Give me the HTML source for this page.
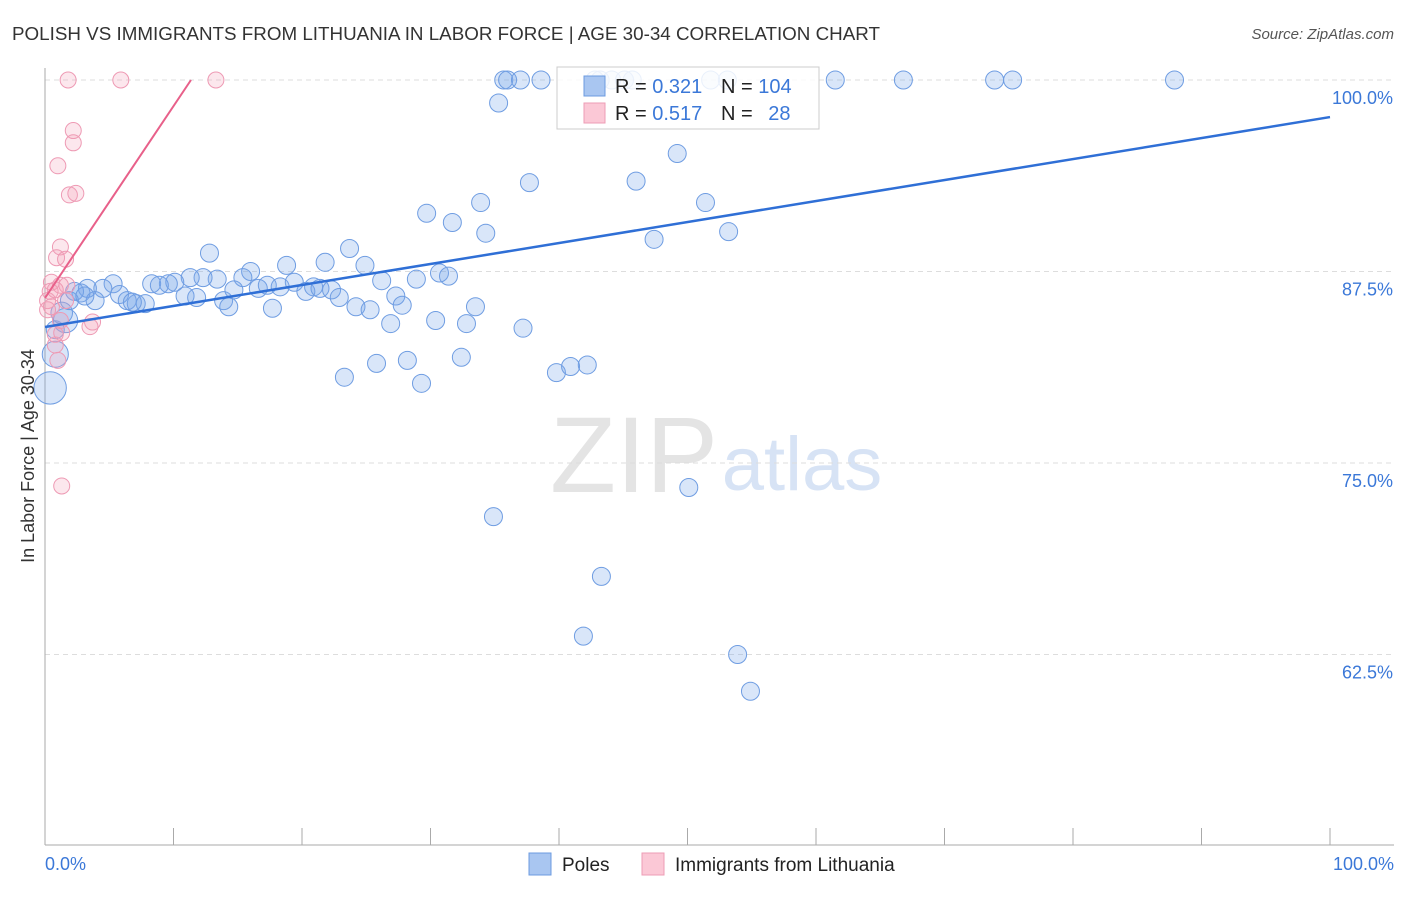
<!DOCTYPE html>
<html><head><meta charset="utf-8"><style>
body{margin:0;background:#fff;font-family:"Liberation Sans",sans-serif}
svg text{font-family:"Liberation Sans",sans-serif}
</style></head><body>
<svg id="chart" width="1406" height="892" xmlns="http://www.w3.org/2000/svg">
<text x="12" y="40" font-size="18" fill="#333" textLength="868" lengthAdjust="spacingAndGlyphs">POLISH VS IMMIGRANTS FROM LITHUANIA IN LABOR FORCE | AGE 30-34 CORRELATION CHART</text>
<text x="1394" y="39" font-size="15" fill="#555" text-anchor="end" font-style="italic">Source: ZipAtlas.com</text>
<text x="634" y="492" font-size="108" fill="#e4e4e4" font-family="Liberation Serif" text-anchor="middle">ZIP</text>
<text x="802" y="490" font-size="76" fill="#d7e3f5" text-anchor="middle">atlas</text>
<g id="grid"></g><g id="axes"></g><g id="marks"></g>
<text transform="translate(34,456) rotate(-90)" font-size="18" fill="#333" text-anchor="middle">In Labor Force | Age 30-34</text>
<text x="45" y="870" font-size="18" fill="#3b78d8">0.0%</text>
<text x="1394" y="870" font-size="18" fill="#3b78d8" text-anchor="end">100.0%</text>
<g>
<rect x="557" y="67" width="262" height="62" fill="#fff" fill-opacity="0.85" stroke="#ccc"/>
<rect x="584" y="76" width="21" height="20" fill="#a9c6f1" stroke="#6c9be0"/>
<rect x="584" y="103" width="21" height="20" fill="#fbc8d6" stroke="#ee9db5"/>
<text x="615" y="93" font-size="20" fill="#222">R = <tspan fill="#3b78d8">0.321</tspan></text>
<text x="721" y="93" font-size="20" fill="#222">N = <tspan fill="#3b78d8">104</tspan></text>
<text x="615" y="120" font-size="20" fill="#222">R = <tspan fill="#3b78d8">0.517</tspan></text>
<text x="721" y="120" font-size="20" fill="#222">N = <tspan fill="#3b78d8" dx="10">28</tspan></text>
</g>
<g>
<rect x="529" y="853" width="22" height="22" fill="#a9c6f1" stroke="#6c9be0"/>
<text x="562" y="871" font-size="19" fill="#222">Poles</text></g>
<g>
<rect x="642" y="853" width="22" height="22" fill="#fbc8d6" stroke="#ee9db5"/>
<text x="675" y="871" font-size="19" fill="#222">Immigrants from Lithuania</text></g>
</svg>
<script>
const yTicks=[100,87.5,75,62.5];
const yTickLabels=["100.0%","87.5%","75.0%","62.5%"];
const polesX=[35.7,36.0,37.0,38.6,42.8,43.2,44.1,45.1,45.7,51.8,53.1,61.5,66.8,73.9,75.3,87.9,35.3,49.2,37.7,46.0,29.7,33.9,31.7,51.4,34.3,53.2,47.4,12.8,23.7,21.8,18.8,24.9,16.0,30.7,31.4,28.9,26.2,15.4,13.4,12.3,11.3,10.1,9.6,8.3,8.9,5.3,4.5,3.3,2.8,2.3,3.9,5.8,6.4,7.1,7.8,6.8,10.9,11.8,13.9,14.3,14.7,16.6,17.3,18.3,19.4,20.3,20.9,21.4,22.3,22.9,24.2,25.3,27.3,27.8,33.5,17.7,30.4,32.8,26.9,37.2,25.8,28.2,32.4,23.3,29.3,39.8,40.9,42.2,1.6,0.8,1.3,0.8,0.4,50.1,34.9,43.3,41.9,53.9,54.9,1.9,3.1];
const polesY=[100,100,100,100,100,100,100,100,100,100,100,100,100,100,100,100,98.5,95.2,93.3,93.4,91.3,92.0,90.7,92.0,90.0,90.1,89.6,88.7,89.0,88.1,87.9,87.9,87.5,87.4,87.2,87.0,86.9,87.1,87.0,87.1,87.1,86.8,86.7,86.7,86.6,86.7,86.4,86.4,86.1,86.2,85.6,86.0,85.6,85.4,85.4,85.5,85.9,85.8,85.6,85.2,86.3,86.4,86.6,86.5,86.8,86.2,86.5,86.4,86.3,85.8,85.2,85.0,85.9,85.3,85.2,85.1,84.3,84.1,84.1,83.8,81.5,81.7,81.9,80.6,80.2,80.9,81.3,81.4,84.3,83.7,84.8,82.1,79.9,73.4,71.5,67.6,63.7,62.5,60.1,85.6,85.9];
const polesSize=[];polesX.forEach(()=>polesSize.push(1));
polesSize[88]=1.35;polesSize[91]=1.45;polesSize[92]=1.8;polesSize[90]=1.2;
const lithX=[1.8,5.9,13.3,2.2,2.2,1.0,1.9,2.4,1.2,0.9,1.6,0.5,1.2,1.7,0.4,0.2,0.5,0.2,1.2,3.7,3.5,0.8,0.8,1.3,1.0,1.3,0.8,1.6];
const lithY=[100,100,100,96.7,95.9,94.4,92.5,92.6,89.1,88.4,88.3,86.8,86.6,86.6,86.2,85.6,85.2,85.0,84.3,84.2,83.9,83.4,82.7,83.5,81.7,73.5,86.3,85.6];
const polesTrend=[0,83.88,100,97.58];
const lithTrend=[0,85.77,11.36,100];
const NS="http://www.w3.org/2000/svg";
const sx=v=>45+v*12.85, sy=v=>80+(100-v)*15.32;
function mk(t,a,p){const e=document.createElementNS(NS,t);for(const k in a)e.setAttribute(k,a[k]);p.appendChild(e);return e;}
const grid=document.getElementById('grid'),axes=document.getElementById('axes'),marks=document.getElementById('marks');
yTicks.forEach((t,i)=>{
 const l=mk('line',{x1:45,x2:1394,y1:sy(t),y2:sy(t),stroke:'#ddd','stroke-dasharray':'5,4'},grid);
 
 
 const tx=mk('text',{x:1393,y:sy(t)+24,'font-size':18,fill:'#3b78d8','text-anchor':'end'},grid);
 tx.textContent=yTickLabels[i];
 
 
});
const ya=mk('line',{x1:45,x2:45,y1:68,y2:845,stroke:'#aaa'},axes);


const xa=mk('line',{x1:45,x2:1394,y1:845,y2:845,stroke:'#aaa'},axes);


for(let i=0;i<=10;i++){const t=mk('line',{x1:sx(i*10),x2:sx(i*10),y1:828,y2:845,stroke:'#aaa'},axes);
 
 }
polesX.forEach((x,i)=>{const c=mk('circle',{cx:sx(x),cy:sy(polesY[i]),r:9*polesSize[i],fill:'rgba(120,165,235,0.28)',stroke:'#6f9de2','stroke-width':1},marks);
 
 });
lithX.forEach((x,i)=>{const c=mk('circle',{cx:sx(x),cy:sy(lithY[i]),r:8,fill:'rgba(245,160,185,0.25)',stroke:'#ee9ab4','stroke-width':1},marks);
 
 });
const pl=mk('line',{x1:sx(polesTrend[0]),y1:sy(polesTrend[1]),x2:sx(polesTrend[2]),y2:sy(polesTrend[3]),stroke:'#2f6fd6','stroke-width':2.5},marks);


const ll=mk('line',{x1:sx(lithTrend[0]),y1:sy(lithTrend[1]),x2:sx(lithTrend[2]),y2:sy(lithTrend[3]),stroke:'#e8608a','stroke-width':2},marks);


</script>
</body></html>
